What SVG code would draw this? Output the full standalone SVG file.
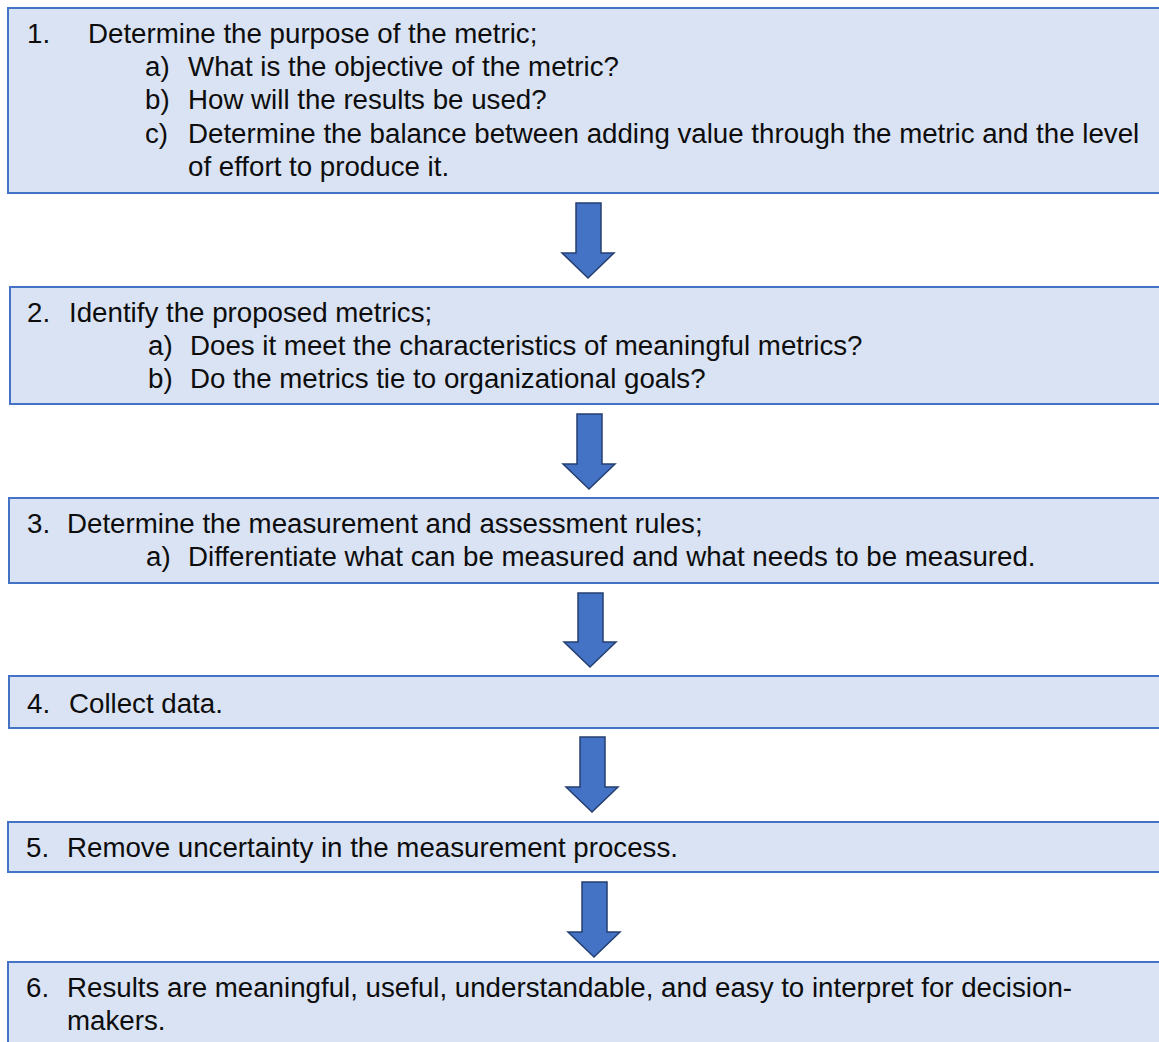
<svg xmlns="http://www.w3.org/2000/svg" width="1159" height="1042" viewBox="0 0 1159 1042">
<style>
.box{fill:#DAE3F3;stroke:#4472C4;stroke-width:2}
.t{font-family:"Liberation Sans",Arial,sans-serif;font-size:27.7px;fill:#0d0d0d}
.arr{fill:#4472C4;stroke:#243F70;stroke-width:1.5;stroke-linejoin:miter}
</style>
<rect width="1159" height="1042" fill="#ffffff"/>
<g id="step1">
<rect class="box" x="8" y="8" width="1160" height="185"/>
<text class="t" x="27" y="43">1.</text>
<text class="t" x="88" y="43">Determine the purpose of the metric;</text>
<text class="t" x="145" y="76">a)</text>
<text class="t" x="188" y="76">What is the objective of the metric?</text>
<text class="t" x="145" y="109">b)</text>
<text class="t" x="188" y="109">How will the results be used?</text>
<text class="t" x="145" y="143">c)</text>
<text class="t" x="188" y="143">Determine the balance between adding value through the metric and the level</text>
<text class="t" x="188" y="176">of effort to produce it.</text>
</g>
<g id="step2">
<rect class="box" x="10" y="287" width="1160" height="117"/>
<text class="t" x="27" y="322">2.</text>
<text class="t" x="69" y="322">Identify the proposed metrics;</text>
<text class="t" x="148" y="355">a)</text>
<text class="t" x="190" y="355">Does it meet the characteristics of meaningful metrics?</text>
<text class="t" x="148" y="388">b)</text>
<text class="t" x="190" y="388">Do the metrics tie to organizational goals?</text>
</g>
<g id="step3">
<rect class="box" x="9" y="498" width="1160" height="85"/>
<text class="t" x="27" y="533">3.</text>
<text class="t" x="67" y="533">Determine the measurement and assessment rules;</text>
<text class="t" x="146" y="566">a)</text>
<text class="t" x="188" y="566">Differentiate what can be measured and what needs to be measured.</text>
</g>
<g id="step4">
<rect class="box" x="9" y="676" width="1160" height="52"/>
<text class="t" x="27" y="713">4.</text>
<text class="t" x="69" y="713">Collect data.</text>
</g>
<g id="step5">
<rect class="box" x="8" y="822" width="1160" height="50"/>
<text class="t" x="26" y="857">5.</text>
<text class="t" x="67" y="857">Remove uncertainty in the measurement process.</text>
</g>
<g id="step6">
<rect class="box" x="8" y="962" width="1160" height="90"/>
<text class="t" x="26" y="997">6.</text>
<text class="t" x="67" y="997">Results are meaningful, useful, understandable, and easy to interpret for decision-</text>
<text class="t" x="67" y="1030">makers.</text>
</g>
<g id="connectors">
<polygon class="arr" points="576,203 601,203 601,253 614,253 588,278 562,253 576,253"/>
<polygon class="arr" points="577,414 602,414 602,464 615,464 589,489 563,464 577,464"/>
<polygon class="arr" points="578,593 603,593 603,642 616,642 590,667 564,642 578,642"/>
<polygon class="arr" points="580,737 605,737 605,787 618,787 592,812 566,787 580,787"/>
<polygon class="arr" points="582,882 607,882 607,932 620,932 594,957 568,932 582,932"/>
</g>
</svg>
